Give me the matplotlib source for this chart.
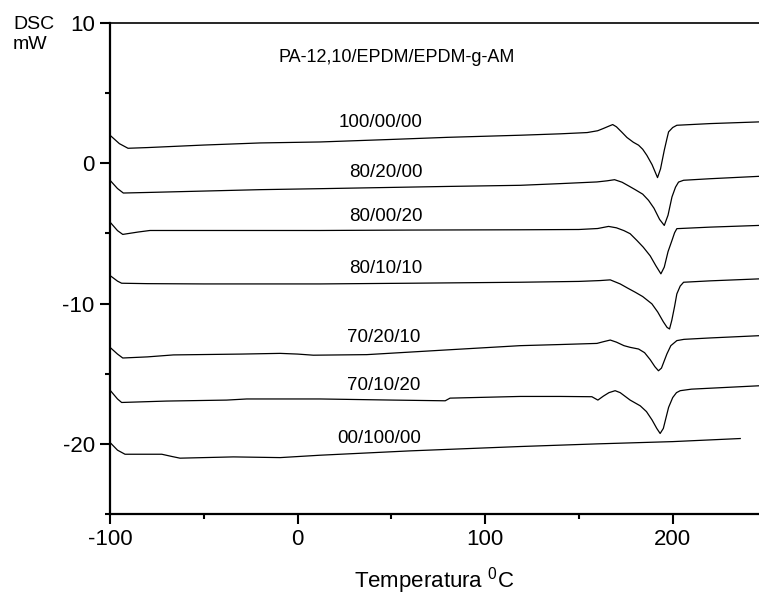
import numpy as np
import matplotlib
matplotlib.use("Agg")
import matplotlib.pyplot as plt
from matplotlib.ticker import FixedLocator

plt.rcParams['font.family'] = ['Liberation Sans', 'DejaVu Sans']
plt.rcParams['mathtext.fontset'] = 'custom'
plt.rcParams['mathtext.rm'] = 'Liberation Sans'
plt.rcParams['axes.unicode_minus'] = False

# DSC curves: temperature (C) and heat flow (mW)
t_100_00_00 = [-100, -95, -90.4, -80, -50, -20, 12, 50, 80, 118.7, 140, 154.4, 160, 163, 166, 168, 170, 173,
               175.6, 179, 181.8, 184, 186.2, 189, 191.9, 193.5, 195.5, 197, 197.8, 200, 202.2, 220, 246]
y_100_00_00 = [2.0, 1.4, 1.07, 1.12, 1.3, 1.45, 1.52, 1.7, 1.85, 2.0, 2.1, 2.19, 2.32, 2.48, 2.65, 2.76, 2.6, 2.2,
               1.84, 1.5, 1.29, 1.0, 0.57, -0.1, -1.02, -0.4, 0.93, 1.8, 2.24, 2.55, 2.71, 2.83, 2.95]

t_80_20_00 = [-100, -96, -92.9, -80, -50, -20, 12, 50, 80, 118.7, 140, 159.6, 165, 169, 173, 177, 180, 184,
              187.1, 190, 193, 195.5, 197.5, 199.6, 201.5, 203.1, 205.8, 220, 246]
y_80_20_00 = [-1.21, -1.8, -2.12, -2.08, -1.98, -1.88, -1.81, -1.72, -1.65, -1.57, -1.45, -1.33, -1.25, -1.17,
              -1.35, -1.65, -1.88, -2.2, -2.64, -3.2, -4.0, -4.43, -3.7, -2.4, -1.7, -1.34, -1.21, -1.1, -0.93]

t_80_00_20 = [-100, -96, -93.2, -85, -78.7, -50, 12, 60, 118.7, 150, 160, 165.8, 170, 174, 177.3, 180.9,
              184.3, 188, 191, 193.7, 195.5, 197.5, 199.6, 201, 202.2, 220, 246]
y_80_00_20 = [-4.19, -4.8, -5.07, -4.9, -4.79, -4.79, -4.79, -4.76, -4.74, -4.72, -4.65, -4.5, -4.6, -4.8,
              -5.02, -5.5, -5.98, -6.6, -7.3, -7.88, -7.4, -6.3, -5.5, -4.95, -4.66, -4.55, -4.43]

t_80_10_10 = [-100, -96, -93.8, -80, -50, 12, 60, 118.7, 150, 161.3, 166.7, 172, 176, 180, 184, 188.9, 192,
              195, 197, 198.3, 199.5, 201, 202.2, 204, 205.8, 220, 246]
y_80_10_10 = [-8.0, -8.4, -8.55, -8.58, -8.6, -8.6, -8.55, -8.48, -8.42, -8.36, -8.31, -8.6, -8.9, -9.19,
              -9.5, -10.02, -10.6, -11.3, -11.7, -11.81, -11.2, -10.2, -9.31, -8.75, -8.48, -8.38, -8.24]

t_70_20_10 = [-100, -96, -93.2, -80, -66.2, -30, -9.3, 0, 8.4, 36.9, 80, 118.7, 140, 159.6, 163, 166.7, 170,
              174, 177.3, 181.8, 185, 188, 190.5, 192.4, 194, 196.9, 199, 202.2, 206, 220, 246]
y_70_20_10 = [-13.12, -13.6, -13.88, -13.8, -13.66, -13.6, -13.55, -13.6, -13.68, -13.64, -13.3, -13.0,
              -12.92, -12.84, -12.72, -12.6, -12.75, -13.0, -13.12, -13.24, -13.5, -14.0, -14.5, -14.79,
              -14.6, -13.59, -13.0, -12.64, -12.55, -12.45, -12.29]

t_70_10_20 = [-100, -96, -93.8, -70, -37.8, -27.1, 12, 51.1, 78.7, 81.3, 100, 118.7, 140, 156.9, 160.1, 163,
              166, 169.3, 172, 175, 177.3, 182.7, 186, 189, 191.5, 193.3, 195, 197.8, 200, 202, 204, 210, 246]
y_70_10_20 = [-16.17, -16.8, -17.05, -16.95, -16.88, -16.8, -16.8, -16.88, -16.93, -16.74, -16.68, -16.62,
              -16.62, -16.64, -16.88, -16.6, -16.35, -16.21, -16.35, -16.65, -16.88, -17.29, -17.7, -18.3,
              -18.9, -19.26, -18.9, -17.4, -16.7, -16.35, -16.21, -16.1, -15.86]

t_00_100_00 = [-100, -96, -92, -72.4, -67, -62.7, -34.2, -9.3, 12, 60, 118.7, 160, 200, 236]
y_00_100_00 = [-19.9, -20.45, -20.74, -20.74, -20.9, -21.02, -20.93, -20.98, -20.81, -20.5, -20.19, -20.0,
               -19.84, -19.62]

curves = [(t_100_00_00, y_100_00_00), (t_80_20_00, y_80_20_00), (t_80_00_20, y_80_00_20),
          (t_80_10_10, y_80_10_10), (t_70_20_10, y_70_20_10), (t_70_10_20, y_70_10_20),
          (t_00_100_00, y_00_100_00)]

labels = ["100/00/00", "80/20/00", "80/00/20", "80/10/10", "70/20/10", "70/10/20", "00/100/00"]
label_x = [44.5, 47, 47.2, 46.9, 46.1, 46, 43.5]
label_y = [2.93, -0.64, -3.76, -7.52, -12.45, -15.82, -19.63]

fig = plt.figure(figsize=(7.59, 5.95), dpi=100)
ax = fig.add_axes([110 / 759, 1 - 514 / 595, (759 - 110) / 759, (514 - 23) / 595])

for t, y in curves:
    ax.plot(t, y, color="black", lw=0.9)

for lab, lx, ly in zip(labels, label_x, label_y):
    ax.text(lx, ly, lab, ha="center", va="center", fontsize=13.5)

ax.text(52.6, 7.57, "PA-12,10/EPDM/EPDM-g-AM", ha="center", va="center", fontsize=13)

ax.set_xlim(-100, 246)
ax.set_ylim(-25, 10)
ax.xaxis.set_major_locator(FixedLocator([-100, 0, 100, 200]))
ax.xaxis.set_minor_locator(FixedLocator([-50, 50, 150]))
ax.yaxis.set_major_locator(FixedLocator([-20, -10, 0, 10]))
ax.yaxis.set_minor_locator(FixedLocator([-25, -15, -5, 5]))
ax.tick_params(which="major", direction="out", length=7, width=1.5, labelsize=16, pad=4)
ax.tick_params(which="minor", direction="out", length=3.6, width=1.5)

ax.spines["right"].set_visible(False)
ax.spines["top"].set_linewidth(1.2)
ax.spines["left"].set_linewidth(1.6)
ax.spines["bottom"].set_linewidth(1.6)

ax.set_xlabel("Temperatura $^{0}$C", fontsize=16, labelpad=11)
fig.text(13 / 759, 1 - 16 / 595, "DSC\nmW", ha="left", va="top", fontsize=14, linespacing=1.25)

fig.savefig("out.png", dpi=100)
